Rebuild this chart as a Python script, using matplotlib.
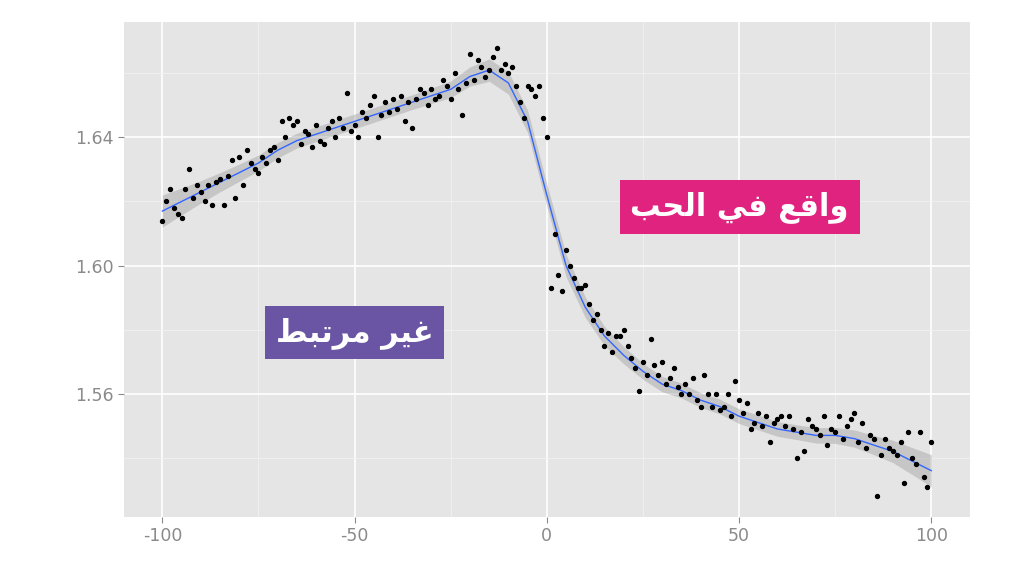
import numpy as np
import matplotlib
matplotlib.use("Agg")
import matplotlib.pyplot as plt
plt.rcParams['axes.unicode_minus'] = False

x_vals = list(range(-100, 101))
y_vals = [
1.614,1.620,1.624,1.618,1.616,1.615,1.624,1.630,1.621,1.625,
1.623,1.620,1.625,1.619,1.626,1.627,1.619,1.628,1.633,1.621,
1.634,1.625,1.636,1.632,1.630,1.629,1.634,1.632,1.636,1.637,
1.633,1.645,1.640,1.646,1.644,1.645,1.638,1.642,1.641,1.637,
1.644,1.639,1.638,1.643,1.645,1.640,1.646,1.643,1.654,1.642,
1.644,1.640,1.648,1.646,1.650,1.653,1.640,1.647,1.651,1.648,
1.652,1.649,1.653,1.645,1.651,1.643,1.652,1.655,1.654,1.650,
1.655,1.652,1.653,1.658,1.656,1.652,1.660,1.655,1.647,1.657,
1.666,1.658,1.664,1.662,1.659,1.661,1.665,1.668,1.661,1.663,
1.660,1.662,1.656,1.651,1.646,1.656,1.655,1.653,1.656,1.646,
1.640,1.593,1.610,1.597,1.592,1.605,1.600,1.596,1.593,1.593,
1.594,1.588,1.583,1.585,1.580,1.575,1.579,1.573,1.578,1.578,
1.580,1.575,1.571,1.568,1.561,1.570,1.566,1.577,1.569,1.566,
1.570,1.563,1.565,1.568,1.562,1.560,1.563,1.560,1.565,1.558,
1.556,1.566,1.560,1.556,1.560,1.555,1.556,1.560,1.553,1.564,
1.558,1.554,1.557,1.549,1.551,1.554,1.550,1.553,1.545,1.551,
1.552,1.553,1.550,1.553,1.549,1.540,1.548,1.542,1.552,1.550,
1.549,1.547,1.553,1.544,1.549,1.548,1.553,1.546,1.550,1.552,
1.554,1.545,1.551,1.543,1.547,1.546,1.528,1.541,1.546,1.543,
1.542,1.541,1.545,1.532,1.548,1.540,1.538,1.548,1.534,1.531,
1.545]

fit_x = list(range(-100, 101, 5))
fit_y = [1.617,1.620,1.623,1.626,1.629,1.632,1.636,1.639,1.641,1.643,
         1.645,1.647,1.649,1.651,1.653,1.655,1.659,1.661,1.657,1.645,
         1.622,1.600,1.587,1.578,1.572,1.567,1.563,1.561,1.558,1.556,
         1.553,1.551,1.549,1.548,1.547,1.547,1.546,1.544,1.542,1.539,1.536]
fit_se = [0.005,0.0042,0.0035,0.003,0.0027,0.0025,0.0024,0.0023,0.0023,0.0023,
          0.0023,0.0023,0.0023,0.0023,0.0024,0.0026,0.003,0.0035,0.0035,0.0035,
          0.0035,0.0035,0.0032,0.003,0.0027,0.0025,0.0024,0.0023,0.0023,0.0023,
          0.0023,0.0023,0.0023,0.0023,0.0024,0.0025,0.0027,0.003,0.0035,0.0042,0.005]

label_love = "\uFE90\uFEA4\uFEDF\uFE8D \uFEF2\uFED3 \uFECA\uFED7\uFE8D\uFEED"
label_single = "\uFEC2\uFE92\uFE97\uFEAE\uFEE3 \uFEAE\uFEF4\uFECF"

fig = plt.figure(figsize=(10.24, 5.8), dpi=100)
ax = fig.add_axes([0.121, 0.109, 0.826, 0.853])
ax.set_facecolor("#e5e5e5")
ax.set_xlim(-110, 110)
ax.set_ylim(1.5216, 1.676)
ax.set_xticks([-100, -50, 0, 50, 100])
ax.set_xticks([-75, -25, 25, 75], minor=True)
ax.set_yticks([1.56, 1.60, 1.64])
ax.set_yticks([1.54, 1.58, 1.62, 1.66], minor=True)
ax.set_yticklabels(["1.56", "1.60", "1.64"])
ax.grid(True, which="major", color="white", lw=1.2)
ax.grid(True, which="minor", color="#f2f2f2", lw=0.6)
ax.set_axisbelow(True)
for s in ax.spines.values():
    s.set_visible(False)
ax.tick_params(which="major", colors="#8a8a8a", labelcolor="#8a8a8a", labelsize=12.5, length=4)
ax.tick_params(which="minor", length=0)

fy = np.array(fit_y); fs = np.array(fit_se)
ax.fill_between(fit_x, fy - fs, fy + fs, color="#999999", alpha=0.4, lw=0)
ax.plot(fit_x, fit_y, color="#3366ff", lw=1)
ax.scatter(x_vals, y_vals, s=8, color="black", zorder=3)

ax.text(0.728, 0.626, label_love, transform=ax.transAxes, ha="center", va="center",
        fontsize=22, fontweight="bold", color="white", family=["DejaVu Sans"],
        bbox=dict(boxstyle="square,pad=0.35", fc="#e0237f", ec="none"))
ax.text(0.273, 0.372, label_single, transform=ax.transAxes, ha="center", va="center",
        fontsize=22, fontweight="bold", color="white", family=["DejaVu Sans"],
        bbox=dict(boxstyle="square,pad=0.35", fc="#6a55a4", ec="none"))

fig.savefig("out.png", dpi=100)
